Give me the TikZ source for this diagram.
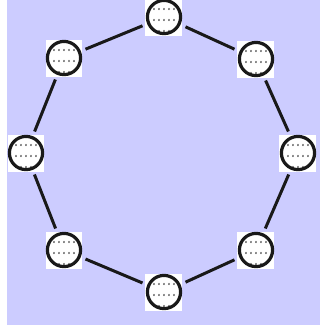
\documentclass[tikz,border=0pt]{standalone}
\usepackage{tikz}

\tikzset{
  ringnode/.style={rectangle, fill=white, inner sep=0pt, minimum size=37pt, outer sep=3pt,
    path picture={
      % dotted interior
      \foreach \dx in {-10,-5,0,5,10} {
        \foreach \dy in {8,-3,-14} {
          \fill[black!85] ([shift={(\dx pt,\dy pt)}]path picture bounding box.center) ellipse (0.75pt and 1.2pt);
        }
      }
      % ring outline
      \draw[black!90, line width=3.2pt] (path picture bounding box.center) circle (16.6pt);
    }},
  ringedge/.style={black!90, line width=3pt}
}

\begin{document}
\begin{tikzpicture}[x=1pt, y=-1pt]

\useasboundingbox (0,0) rectangle (320,325);

% Background panel
\fill[blue!20] (7,0) rectangle (320,325);

% Nodes of the ring
\foreach \n/\px/\py in {top/164/17, ul/64/58, ur/256/59, lt/26/153, rt/298/153, ll/64/250, lr/256/250, bot/164/292} {
    \node[ringnode] (\n) at (\px,\py) {};
}

% Connect neighbouring nodes
\foreach \a/\b in {top/ul, ul/lt, lt/ll, ll/bot, bot/lr, lr/rt, rt/ur, ur/top} {
    \draw[ringedge] (\a) -- (\b);
}
\end{tikzpicture}
\end{document}
